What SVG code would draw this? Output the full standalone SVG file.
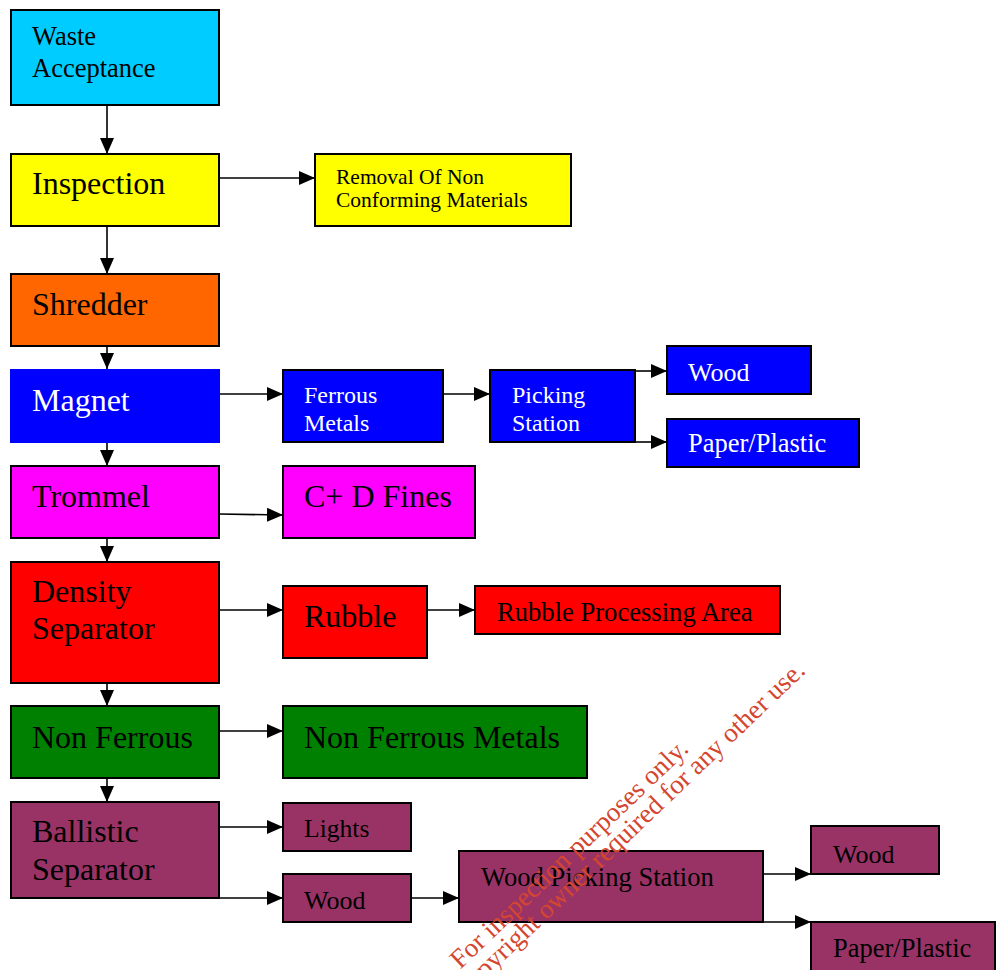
<svg xmlns="http://www.w3.org/2000/svg" width="996" height="970" viewBox="0 0 996 970">
  <defs>
    <marker id="arrow" markerUnits="userSpaceOnUse" markerWidth="16" markerHeight="14" refX="16" refY="7" orient="auto">
      <path d="M0,0 L16,7 L0,14 Z" fill="#000"/>
    </marker>
    <style>
      .box { stroke: #000; stroke-width: 2; }
      .lbl { font-family: "Liberation Serif", "Times New Roman", serif; fill: #000; }
      .w { fill: #fff; }
      .big { font-size: 32px; }
      .mid { font-size: 26.6px; }
      .sm { font-size: 24px; }
      .xs { font-size: 21.5px; }
      .conn line { stroke: #000; stroke-width: 1.6; fill: none; marker-end: url(#arrow); }
      .wm { font-family: "Liberation Serif", "Times New Roman", serif; font-size: 27px; fill: #d4462f; }
    </style>
  </defs>
  <rect width="996" height="970" fill="#fff"/>

  <!-- connectors -->
  <g id="connectors" class="conn">
    <line x1="107" y1="105" x2="107" y2="154"/>
    <line x1="219" y1="178" x2="315" y2="178"/>
    <line x1="107" y1="226" x2="107" y2="274"/>
    <line x1="107" y1="346" x2="107" y2="369"/>
    <line x1="220" y1="394" x2="283" y2="394"/>
    <line x1="443" y1="394" x2="490" y2="394"/>
    <line x1="635" y1="371" x2="667" y2="371"/>
    <line x1="635" y1="442" x2="667" y2="442"/>
    <line x1="107" y1="443" x2="107" y2="466"/>
    <line x1="219" y1="514" x2="283" y2="515"/>
    <line x1="107" y1="538" x2="107" y2="562"/>
    <line x1="219" y1="610" x2="283" y2="610"/>
    <line x1="427" y1="610" x2="475" y2="610"/>
    <line x1="107" y1="683" x2="107" y2="706"/>
    <line x1="219" y1="731" x2="283" y2="731"/>
    <line x1="107" y1="778" x2="107" y2="802"/>
    <line x1="219" y1="827" x2="283" y2="827"/>
    <line x1="219" y1="898" x2="283" y2="898"/>
    <line x1="411" y1="898" x2="459" y2="898"/>
    <line x1="763" y1="874" x2="811" y2="874"/>
    <line x1="763" y1="922" x2="811" y2="922"/>
  </g>

  <!-- process nodes -->
  <g id="waste-acceptance">
    <rect class="box" x="11" y="10" width="208" height="95" fill="#00CCFF"/>
    <text class="lbl" x="32" y="45" font-size="26.5">Waste</text>
    <text class="lbl" x="32" y="77" font-size="26.5">Acceptance</text>
  </g>
  <g id="inspection">
    <rect class="box" x="11" y="154" width="208" height="72" fill="#FFFF00"/>
    <text class="lbl big" x="32" y="194">Inspection</text>
  </g>
  <g id="removal">
    <rect class="box" x="315" y="154" width="256" height="72" fill="#FFFF00"/>
    <text class="lbl xs" x="336" y="184">Removal Of Non</text>
    <text class="lbl xs" x="336" y="207">Conforming Materials</text>
  </g>
  <g id="shredder">
    <rect class="box" x="11" y="274" width="208" height="72" fill="#FF6600"/>
    <text class="lbl big" x="32" y="315">Shredder</text>
  </g>
  <g id="magnet">
    <rect x="10" y="369" width="210" height="74" fill="#0000FF"/>
    <text class="lbl big w" x="32" y="411">Magnet</text>
  </g>
  <g id="ferrous-metals">
    <rect class="box" x="283" y="370" width="160" height="72" fill="#0000FF"/>
    <text class="lbl sm w" x="304" y="403">Ferrous</text>
    <text class="lbl sm w" x="304" y="431">Metals</text>
  </g>
  <g id="picking-station">
    <rect class="box" x="490" y="370" width="145" height="72" fill="#0000FF"/>
    <text class="lbl sm w" x="512" y="403">Picking</text>
    <text class="lbl sm w" x="512" y="431">Station</text>
  </g>
  <g id="wood-1">
    <rect class="box" x="667" y="346" width="144" height="48" fill="#0000FF"/>
    <text class="lbl w" x="688" y="381" font-size="26">Wood</text>
  </g>
  <g id="paper-plastic-1">
    <rect class="box" x="667" y="419" width="192" height="48" fill="#0000FF"/>
    <text class="lbl w" x="688" y="452" font-size="26.5">Paper/Plastic</text>
  </g>
  <g id="trommel">
    <rect class="box" x="11" y="466" width="208" height="72" fill="#FF00FF"/>
    <text class="lbl big" x="32" y="507">Trommel</text>
  </g>
  <g id="cd-fines">
    <rect class="box" x="283" y="466" width="192" height="72" fill="#FF00FF"/>
    <text class="lbl big" x="304" y="507">C+ D Fines</text>
  </g>
  <g id="density-separator">
    <rect class="box" x="11" y="562" width="208" height="121" fill="#FF0000"/>
    <text class="lbl big" x="32" y="602">Density</text>
    <text class="lbl big" x="32" y="639">Separator</text>
  </g>
  <g id="rubble">
    <rect class="box" x="283" y="586" width="144" height="72" fill="#FF0000"/>
    <text class="lbl big" x="304" y="627">Rubble</text>
  </g>
  <g id="rubble-processing">
    <rect class="box" x="475" y="586" width="305" height="48" fill="#FF0000"/>
    <text class="lbl mid" x="497" y="621">Rubble Processing Area</text>
  </g>
  <g id="non-ferrous">
    <rect class="box" x="11" y="706" width="208" height="72" fill="#008000"/>
    <text class="lbl big" x="32" y="748">Non Ferrous</text>
  </g>
  <g id="non-ferrous-metals">
    <rect class="box" x="283" y="706" width="304" height="72" fill="#008000"/>
    <text class="lbl big" x="304" y="748">Non Ferrous Metals</text>
  </g>
  <g id="ballistic-separator">
    <rect class="box" x="11" y="802" width="208" height="96" fill="#993366"/>
    <text class="lbl big" x="32" y="842">Ballistic</text>
    <text class="lbl big" x="32" y="880">Separator</text>
  </g>
  <g id="lights">
    <rect class="box" x="283" y="803" width="128" height="48" fill="#993366"/>
    <text class="lbl" x="304" y="837" font-size="25.6">Lights</text>
  </g>
  <g id="wood-2">
    <rect class="box" x="283" y="874" width="128" height="48" fill="#993366"/>
    <text class="lbl" x="304" y="909" font-size="26">Wood</text>
  </g>
  <g id="wood-picking-station">
    <rect class="box" x="459" y="851" width="304" height="71" fill="#993366"/>
    <text class="lbl mid" x="481" y="886">Wood Picking Station</text>
  </g>
  <g id="wood-3">
    <rect class="box" x="811" y="826" width="128" height="48" fill="#993366"/>
    <text class="lbl" x="833" y="863" font-size="26">Wood</text>
  </g>
  <g id="paper-plastic-2">
    <rect class="box" x="811" y="922" width="184" height="50" fill="#993366"/>
    <text class="lbl" x="833" y="957" font-size="26.5">Paper/Plastic</text>
  </g>

  <!-- diagonal notice -->
  <g transform="translate(575,860) rotate(-43.7)">
    <text class="wm" x="0" y="0" text-anchor="middle">For inspection purposes only.</text>
    <text class="wm" x="0" y="24" text-anchor="middle">Consent of copyright owner required for any other use.</text>
  </g>
</svg>
